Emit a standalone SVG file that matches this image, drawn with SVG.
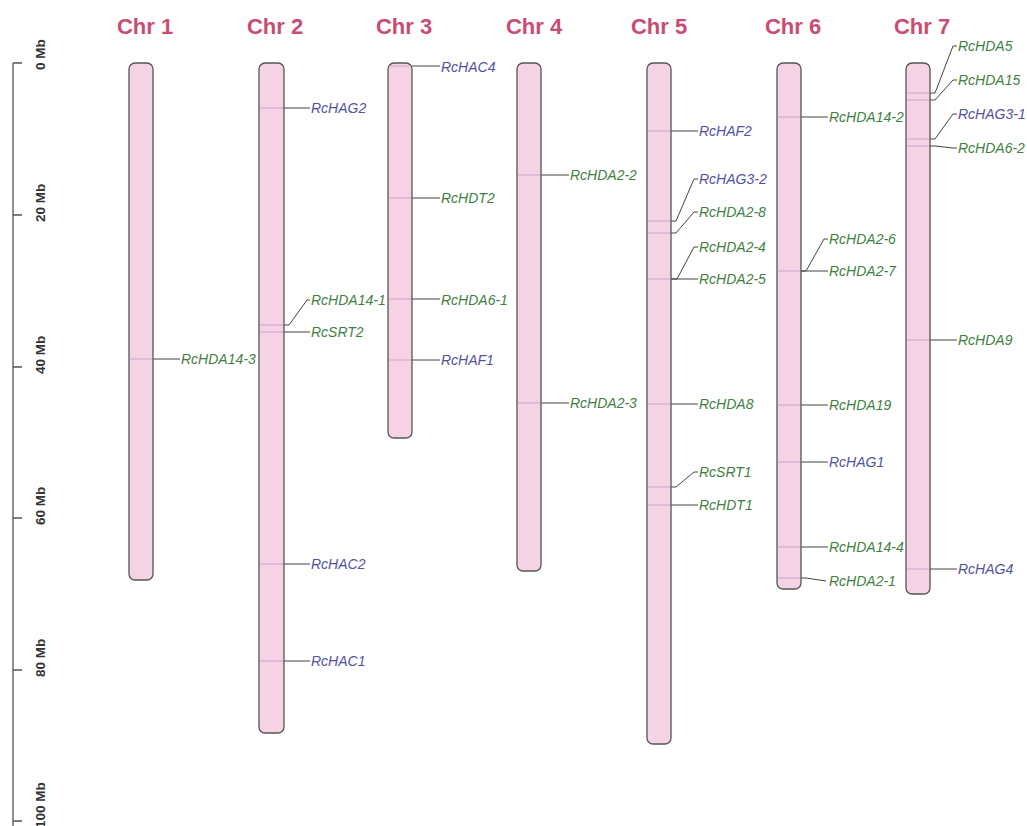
<svg xmlns="http://www.w3.org/2000/svg" width="1027" height="826" viewBox="0 0 1027 826">
<style>
.chr{fill:#f6d3e4;stroke:#555;stroke-width:1.3}
.mk{stroke:#c9a3cc;stroke-width:1}
.title{font-family:"Liberation Sans",Arial,sans-serif;font-weight:bold;font-size:22px;fill:#c94d72;text-anchor:middle}
.lb{font-family:"Liberation Sans",Arial,sans-serif;font-style:italic;font-size:14px}
.g{fill:#3f7f3f}
.b{fill:#5252a3}
.ld{fill:none;stroke:#444;stroke-width:1}
.sc{stroke:#555;stroke-width:1.3;fill:none}
.st{font-family:"Liberation Sans",Arial,sans-serif;font-size:13.5px;font-weight:bold;fill:#333}
</style>
<rect width="1027" height="826" fill="#fff"/>
<g id="scale">
<path class="sc" d="M13,63 V826 M13,63 H22 M13,215 H22 M13,367 H22 M13,518 H22 M13,670 H22 M13,821 H22"/>
<text class="st" transform="translate(45,70) rotate(-90)">0 Mb</text>
<text class="st" transform="translate(45,222) rotate(-90)">20 Mb</text>
<text class="st" transform="translate(45,374) rotate(-90)">40 Mb</text>
<text class="st" transform="translate(45,525) rotate(-90)">60 Mb</text>
<text class="st" transform="translate(45,677) rotate(-90)">80 Mb</text>
<text class="st" transform="translate(45,828) rotate(-90)">100 Mb</text>
</g>
<g id="connectors">
<path class="ld" d="M153,359 H180"/>
<path class="ld" d="M284,108 H310"/>
<path class="ld" d="M284,325 H289 L307,300 H310"/>
<path class="ld" d="M284,332 H310"/>
<path class="ld" d="M284,564 H310"/>
<path class="ld" d="M284,661 H310"/>
<path class="ld" d="M412,66 H440"/>
<path class="ld" d="M412,198 H440"/>
<path class="ld" d="M412,299 H440"/>
<path class="ld" d="M412,360 H440"/>
<path class="ld" d="M541,175 H569"/>
<path class="ld" d="M541,403 H569"/>
<path class="ld" d="M671,131 H698"/>
<path class="ld" d="M671,221 H676 L694,179 H698"/>
<path class="ld" d="M671,233 H676 L694,212 H698"/>
<path class="ld" d="M671,279 H677 L694,247 H698"/>
<path class="ld" d="M671,279 H698"/>
<path class="ld" d="M671,404 H698"/>
<path class="ld" d="M671,487 H676 L694,472 H698"/>
<path class="ld" d="M671,505 H698"/>
<path class="ld" d="M801,117 H828"/>
<path class="ld" d="M801,271 H806 L824,239 H828"/>
<path class="ld" d="M801,271 H828"/>
<path class="ld" d="M801,405 H828"/>
<path class="ld" d="M801,462 H828"/>
<path class="ld" d="M801,547 H828"/>
<path class="ld" d="M801,578 H806 L826,581"/>
<path class="ld" d="M930,93 H935 L953,46 H957"/>
<path class="ld" d="M930,100 H935 L953,80 H957"/>
<path class="ld" d="M930,139 H935 L953,114 H957"/>
<path class="ld" d="M930,146 H935 L953,148 H957"/>
<path class="ld" d="M930,340 H957"/>
<path class="ld" d="M930,569 H957"/>
</g>
<g id="chr1">
<text class="title" x="145" y="34">Chr 1</text>
<rect class="chr" x="129" y="63" width="24" height="517" rx="6"/>
<line class="mk" x1="130" y1="359" x2="152" y2="359"/>
<text class="lb g" x="181" y="364">RcHDA14-3</text>
</g>
<g id="chr2">
<text class="title" x="275" y="34">Chr 2</text>
<rect class="chr" x="259" y="63" width="25" height="670" rx="6"/>
<g class="mk"><line x1="260" y1="108" x2="283" y2="108"/><line x1="260" y1="325" x2="283" y2="325"/><line x1="260" y1="332" x2="283" y2="332"/><line x1="260" y1="564" x2="283" y2="564"/><line x1="260" y1="661" x2="283" y2="661"/></g>
<text class="lb b" x="311" y="113">RcHAG2</text>
<text class="lb g" x="311" y="305">RcHDA14-1</text>
<text class="lb g" x="311" y="337">RcSRT2</text>
<text class="lb b" x="311" y="569">RcHAC2</text>
<text class="lb b" x="311" y="666">RcHAC1</text>
</g>
<g id="chr3">
<text class="title" x="404" y="34">Chr 3</text>
<rect class="chr" x="388" y="63" width="24" height="375" rx="6"/>
<g class="mk"><line x1="389" y1="66" x2="411" y2="66"/><line x1="389" y1="198" x2="411" y2="198"/><line x1="389" y1="299" x2="411" y2="299"/><line x1="389" y1="360" x2="411" y2="360"/></g>
<text class="lb b" x="441" y="72">RcHAC4</text>
<text class="lb g" x="441" y="203">RcHDT2</text>
<text class="lb g" x="441" y="305">RcHDA6-1</text>
<text class="lb b" x="441" y="365">RcHAF1</text>
</g>
<g id="chr4">
<text class="title" x="534" y="34">Chr 4</text>
<rect class="chr" x="517" y="63" width="24" height="508" rx="6"/>
<g class="mk"><line x1="518" y1="175" x2="540" y2="175"/><line x1="518" y1="403" x2="540" y2="403"/></g>
<text class="lb g" x="570" y="180">RcHDA2-2</text>
<text class="lb g" x="570" y="408">RcHDA2-3</text>
</g>
<g id="chr5">
<text class="title" x="659" y="34">Chr 5</text>
<rect class="chr" x="647" y="63" width="24" height="681" rx="6"/>
<g class="mk"><line x1="648" y1="131" x2="670" y2="131"/><line x1="648" y1="221" x2="670" y2="221"/><line x1="648" y1="233" x2="670" y2="233"/><line x1="648" y1="279" x2="670" y2="279"/><line x1="648" y1="404" x2="670" y2="404"/><line x1="648" y1="487" x2="670" y2="487"/><line x1="648" y1="505" x2="670" y2="505"/></g>
<text class="lb b" x="699" y="136">RcHAF2</text>
<text class="lb b" x="699" y="184">RcHAG3-2</text>
<text class="lb g" x="699" y="217">RcHDA2-8</text>
<text class="lb g" x="699" y="252">RcHDA2-4</text>
<text class="lb g" x="699" y="284">RcHDA2-5</text>
<text class="lb g" x="699" y="409">RcHDA8</text>
<text class="lb g" x="699" y="477">RcSRT1</text>
<text class="lb g" x="699" y="510">RcHDT1</text>
</g>
<g id="chr6">
<text class="title" x="793" y="34">Chr 6</text>
<rect class="chr" x="777" y="63" width="24" height="526" rx="6"/>
<g class="mk"><line x1="778" y1="117" x2="800" y2="117"/><line x1="778" y1="271" x2="800" y2="271"/><line x1="778" y1="405" x2="800" y2="405"/><line x1="778" y1="462" x2="800" y2="462"/><line x1="778" y1="547" x2="800" y2="547"/><line x1="778" y1="578" x2="800" y2="578"/></g>
<text class="lb g" x="829" y="122">RcHDA14-2</text>
<text class="lb g" x="829" y="244">RcHDA2-6</text>
<text class="lb g" x="829" y="276">RcHDA2-7</text>
<text class="lb g" x="829" y="410">RcHDA19</text>
<text class="lb b" x="829" y="467">RcHAG1</text>
<text class="lb g" x="829" y="552">RcHDA14-4</text>
<text class="lb g" x="829" y="586">RcHDA2-1</text>
</g>
<g id="chr7">
<text class="title" x="922" y="34">Chr 7</text>
<rect class="chr" x="906" y="63" width="24" height="531" rx="6"/>
<g class="mk"><line x1="907" y1="93" x2="929" y2="93"/><line x1="907" y1="100" x2="929" y2="100"/><line x1="907" y1="139" x2="929" y2="139"/><line x1="907" y1="146" x2="929" y2="146"/><line x1="907" y1="340" x2="929" y2="340"/><line x1="907" y1="569" x2="929" y2="569"/></g>
<text class="lb g" x="958" y="51">RcHDA5</text>
<text class="lb g" x="958" y="85">RcHDA15</text>
<text class="lb b" x="958" y="119">RcHAG3-1</text>
<text class="lb g" x="958" y="153">RcHDA6-2</text>
<text class="lb g" x="958" y="345">RcHDA9</text>
<text class="lb b" x="958" y="574">RcHAG4</text>
</g>
</svg>
